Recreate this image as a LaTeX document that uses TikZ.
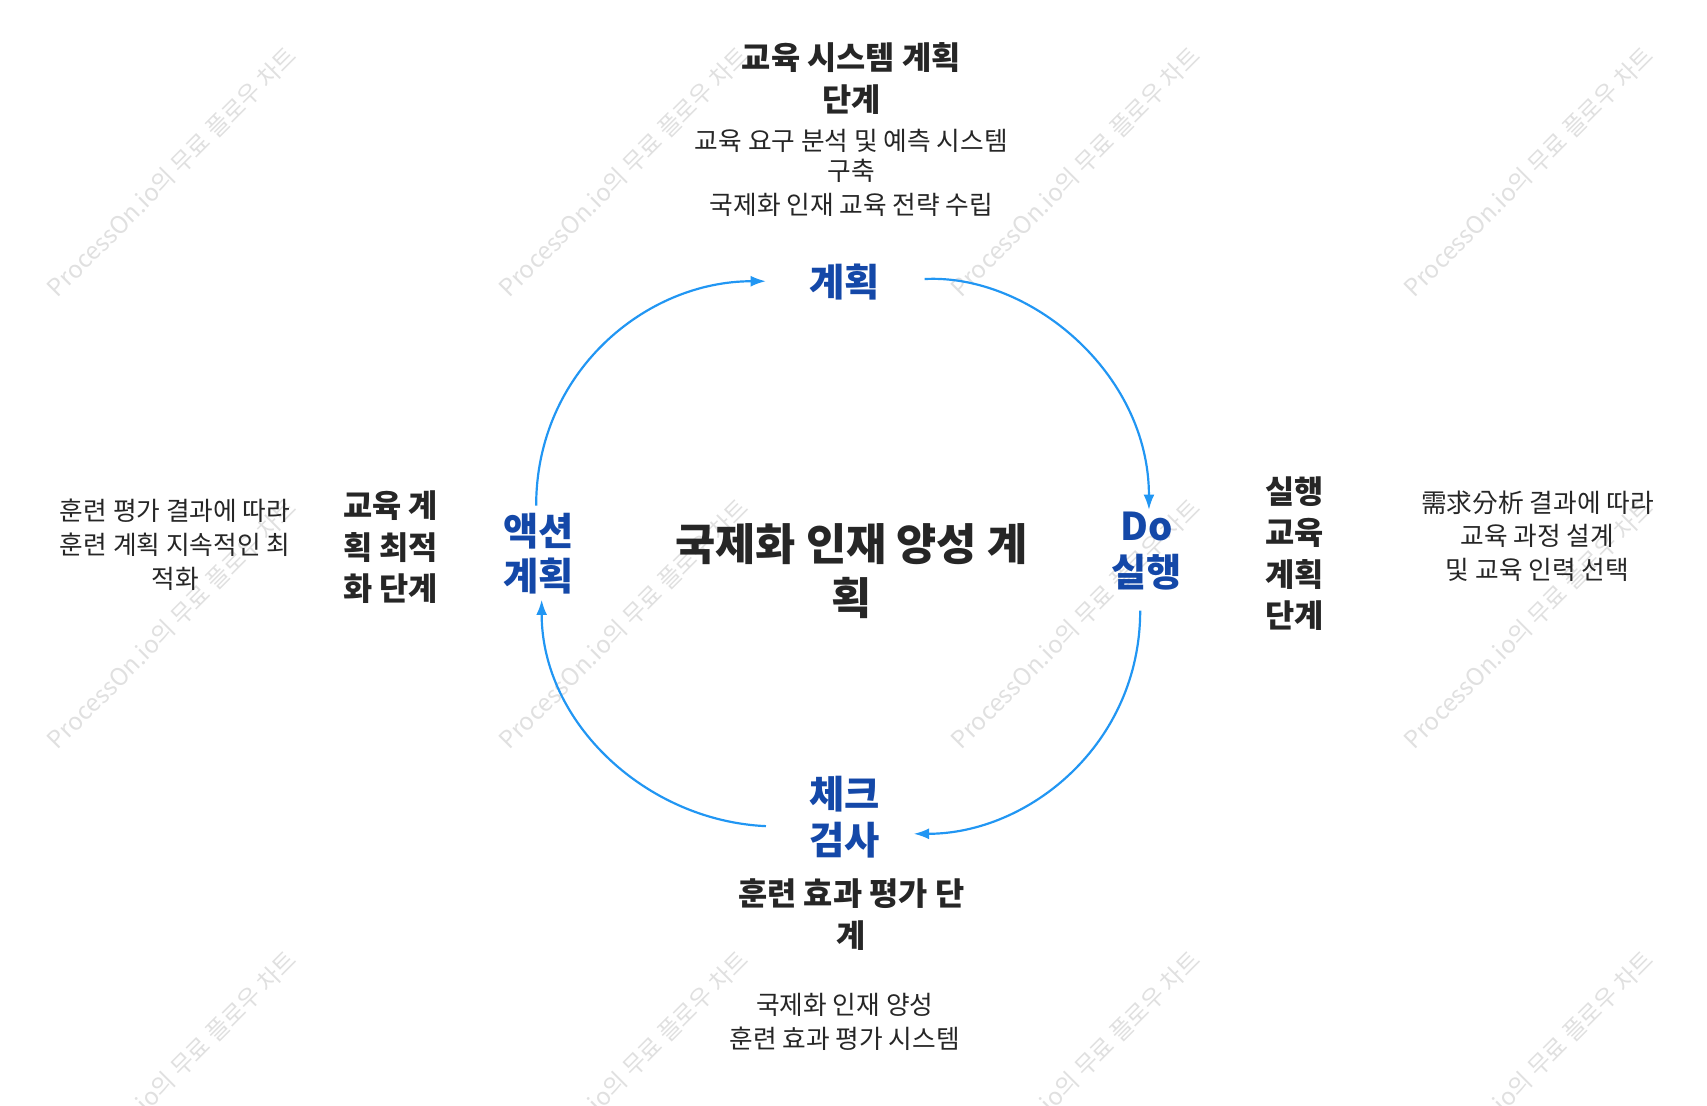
\documentclass[tikz,border=0pt]{standalone}
\usepackage{fontspec}
\usetikzlibrary{arrows.meta}
\setmainfont{Noto Sans CJK KR}
\definecolor{lblue}{RGB}{20,72,168}
\definecolor{ablue}{RGB}{33,150,243}
\begin{document}
\begin{tikzpicture}[x=1pt,y=-1pt,
  blue/.style={font=\bfseries\fontsize{35}{42}\selectfont,text=lblue},
  hd/.style={font=\bfseries\fontsize{29}{38}\selectfont,text=black!85,align=center},
  ds/.style={font=\fontsize{23.5}{31}\selectfont,text=black!85,align=center},
  arc/.style={draw=ablue,line width=2pt,-{Latex[length=14pt,width=10pt]}},
  wm/.style={font=\fontsize{22}{26}\selectfont,text=black!12,rotate=45}]
\useasboundingbox (0,0) rectangle (1560,1010);
\clip (0,0) rectangle (1560,1010);
\foreach \x in {157,570,983,1397}{\foreach \y in {157,570,983}{\node[wm] at (\x,\y) {ProcessOn.io의 무료 플로우 차트};}}
\node[hd] (th) at (778,72) {교육 시스템 계획\\단계};
\node[ds] (td) at (778,158) {교육 요구 분석 및 예측 시스템\\[-4pt]구축\\국제화 인재 교육 전략 수립};
\node[blue] (p) at (772,258) {계획};
\node[blue,align=center] (d) at (1048,504) {Do\\실행};
\node[blue,align=center] (a) at (492,506) {액션\\계획};
\node[blue,align=center] (c) at (772,747) {체크\\검사};
\node[font=\bfseries\fontsize{40}{50}\selectfont,text=black!85,align=center] (m) at (778,522) {국제화 인재 양성 계\\획};
\node[hd] (lh) at (357,500) {교육 계\\획 최적\\화 단계};
\node[ds] (ld) at (160,498) {훈련 평가 결과에 따라\\훈련 계획 지속적인 최\\적화};
\node[hd] (rh) at (1183,506) {실행\\교육\\계획\\단계};
\node[ds] (rd) at (1405,490) {需求分析 결과에 따라\\교육 과정 설계\\및 교육 인력 선택};
\node[hd] (bh) at (778,836) {훈련 효과 평가 단\\계};
\node[ds] (bd) at (772,934) {국제화 인재 양성\\훈련 효과 평가 시스템};
\coordinate (a1) at (490,462); \coordinate (p1) at (700,257);
\coordinate (p2) at (845,255); \coordinate (d1) at (1050,466);
\coordinate (d2) at (1042,558); \coordinate (c1) at (835,762);
\coordinate (c2) at (700,755); \coordinate (a2) at (495,548);
\draw[arc] (a1) .. controls (490,340) and (590,257) .. (p1);
\draw[arc] (p2) .. controls (940,250) and (1050,340) .. (d1);
\draw[arc] (d2) .. controls (1042,680) and (940,762) .. (c1);
\draw[arc] (c2) .. controls (590,750) and (495,660) .. (a2);
\end{tikzpicture}
\end{document}
